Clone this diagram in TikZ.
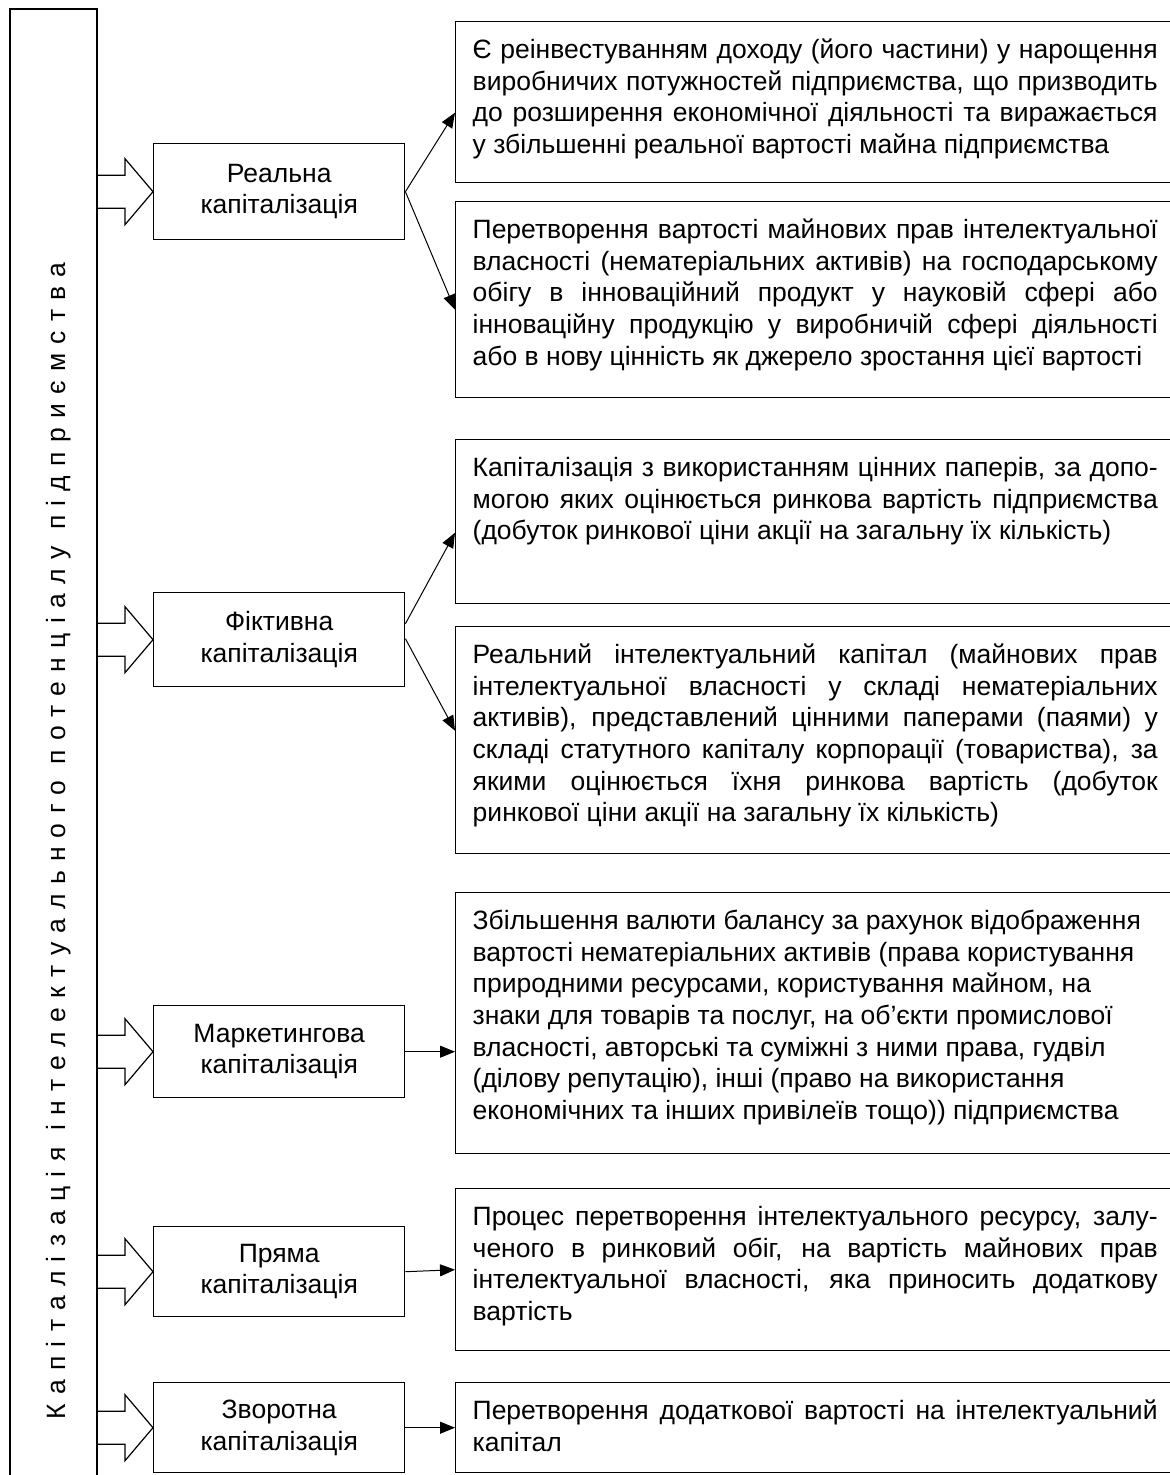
\documentclass[tikz,border=0pt]{standalone}
\usepackage{fontspec}
\setmainfont{Liberation Sans}
\usetikzlibrary{calc,arrows.meta}
\tolerance=10000
\hbadness=10000
\hyphenpenalty=10000

% text of a right-hand box: fixed height, top aligned, justified
\newcommand{\desc}[2]{\parbox[t][#1][t]{342.5pt}{\rule{0pt}{18.5pt}#2}}

\tikzset{
  midbox/.style={draw, line width=0.7pt, anchor=north west, minimum width=125.5pt,
    minimum height=#1, text width=120pt, align=center, inner sep=0pt},
  descbox/.style={draw, line width=0.7pt, anchor=north west, inner xsep=8.5pt, inner ysep=0pt},
  conn/.style={line width=0.5pt, -{Triangle[length=7.5pt,width=6pt]}},
  barrow/.style={line width=0.6pt}
}

% block arrow from the left bar into a node
\newcommand{\bigarrow}[1]{\draw[barrow] (#1.west) -- ++(-28,-33) -- ++(0,16.5) -- ++(-28,0) ++(0,33) -- ++(28,0) -- ++(0,16.5) -- (#1.west);}

\begin{document}
\begin{tikzpicture}[x=0.5pt,y=0.5pt,yscale=-1,xscale=1]
	\useasboundingbox (0,0) rectangle (1169,1475);
	\fontsize{13.25pt}{15.8pt}\selectfont

	%Shape: left bar with the title
	\node[draw, line width=0.7pt, rotate=90, minimum width=832pt, minimum height=43.5pt, inner sep=0pt,
		text height=15pt, text depth=2.8pt] (title) at (53.5,841)
		{\addfontfeature{LetterSpace=35}Капіталізація інтелектуального потенціалу підприємства};

	% Middle nodes
	\node[midbox=48pt] (real) at (153,143) {Реальна\\капіталізація};
	\node[midbox=47pt] (fict) at (153,592) {Фіктивна\\капіталізація};
	\node[midbox=46pt] (mark) at (153,1005) {Маркетингова\\капіталізація};
	\node[midbox=45pt] (direct) at (153,1226) {Пряма\\капіталізація};
	\node[midbox=45pt] (back) at (153,1382) {Зворотна\\капіталізація};

	% Text Node
	\node[descbox] (realA) at (455,21) {\desc{80.5pt}{Є реінвестуванням доходу (його частини) у нарощення\linebreak
		виробничих потужностей підприємства, що призводить\linebreak
		до розширення економічної діяльності та виражається\linebreak
		у збільшенні реальної вартості майна підприємства}};
	% Text Node
	\node[descbox] (realB) at (455,201) {\desc{98pt}{Перетворення вартості майнових прав інтелектуальної\linebreak
		власності (нематеріальних активів) на господарському\linebreak
		обігу в інноваційний продукт у науковій сфері або\linebreak
		інноваційну продукцію у виробничій сфері діяльності\linebreak
		або в нову цінність як джерело зростання цієї вартості}};
	% Text Node
	\node[descbox] (fictA) at (455,439) {\desc{82pt}{Капіталізація з використанням цінних паперів, за допо-\linebreak
		могою яких оцінюється ринкова вартість підприємства\linebreak
		(добуток ринкової ціни акції на загальну їх кількість)}};
	% Text Node
	\node[descbox] (fictB) at (455,626) {\desc{113.5pt}{Реальний інтелектуальний капітал (майнових прав\linebreak
		інтелектуальної власності у складі нематеріальних\linebreak
		активів), представлений цінними паперами (паями) у\linebreak
		складі статутного капіталу корпорації (товариства), за\linebreak
		якими оцінюється їхня ринкова вартість (добуток\linebreak
		ринкової ціни акції на загальну їх кількість)}};
	% Text Node
	\node[descbox] (markA) at (455,892) {\desc{130.5pt}{\raggedright\rule{0pt}{18.5pt}Збільшення валюти балансу за рахунок відображення\\
		вартості нематеріальних активів (права користування\\
		природними ресурсами, користування майном, на\\
		знаки для товарів та послуг, на об’єкти промислової\\
		власності, авторські та суміжні з ними права, гудвіл\\
		(ділову репутацію), інші (право на використання\\
		економічних та інших привілеїв тощо)) підприємства}};
	% Text Node
	\node[descbox] (directA) at (455,1188) {\desc{81pt}{Процес перетворення інтелектуального ресурсу, залу-\linebreak
		ченого в ринковий обіг, на вартість майнових прав\linebreak
		інтелектуальної власності, яка приносить додаткову\linebreak
		вартість}};
	% Text Node
	\node[descbox] (backA) at (455,1382) {\desc{45pt}{Перетворення додаткової вартості на інтелектуальний\linebreak
		капітал}};

	%Shape: block arrows
	\bigarrow{real}
	\bigarrow{fict}
	\bigarrow{mark}
	\bigarrow{direct}
	\bigarrow{back}

	%Straight Lines
	\draw[conn] (real.east) -- ($(realA.west)+(0,10.5)$);
	\draw[conn] (real.east) -- ($(realB.west)+(0,10)$);
	\draw[conn] ($(fict.east)+(0,-16)$) -- ($(fictA.west)+(0,11)$);
	\draw[conn] ($(fict.east)+(0,-1)$) -- ($(fictB.west)+(0,-9.5)$);
	\draw[conn] (mark.east) -- (mark.east -| markA.west);
	\draw[conn] (direct.east) -- ($(direct.east -| directA.west)+(0,-2)$);
	\draw[conn] (back.east) -- (back.east -| backA.west);

\end{tikzpicture}
\end{document}
